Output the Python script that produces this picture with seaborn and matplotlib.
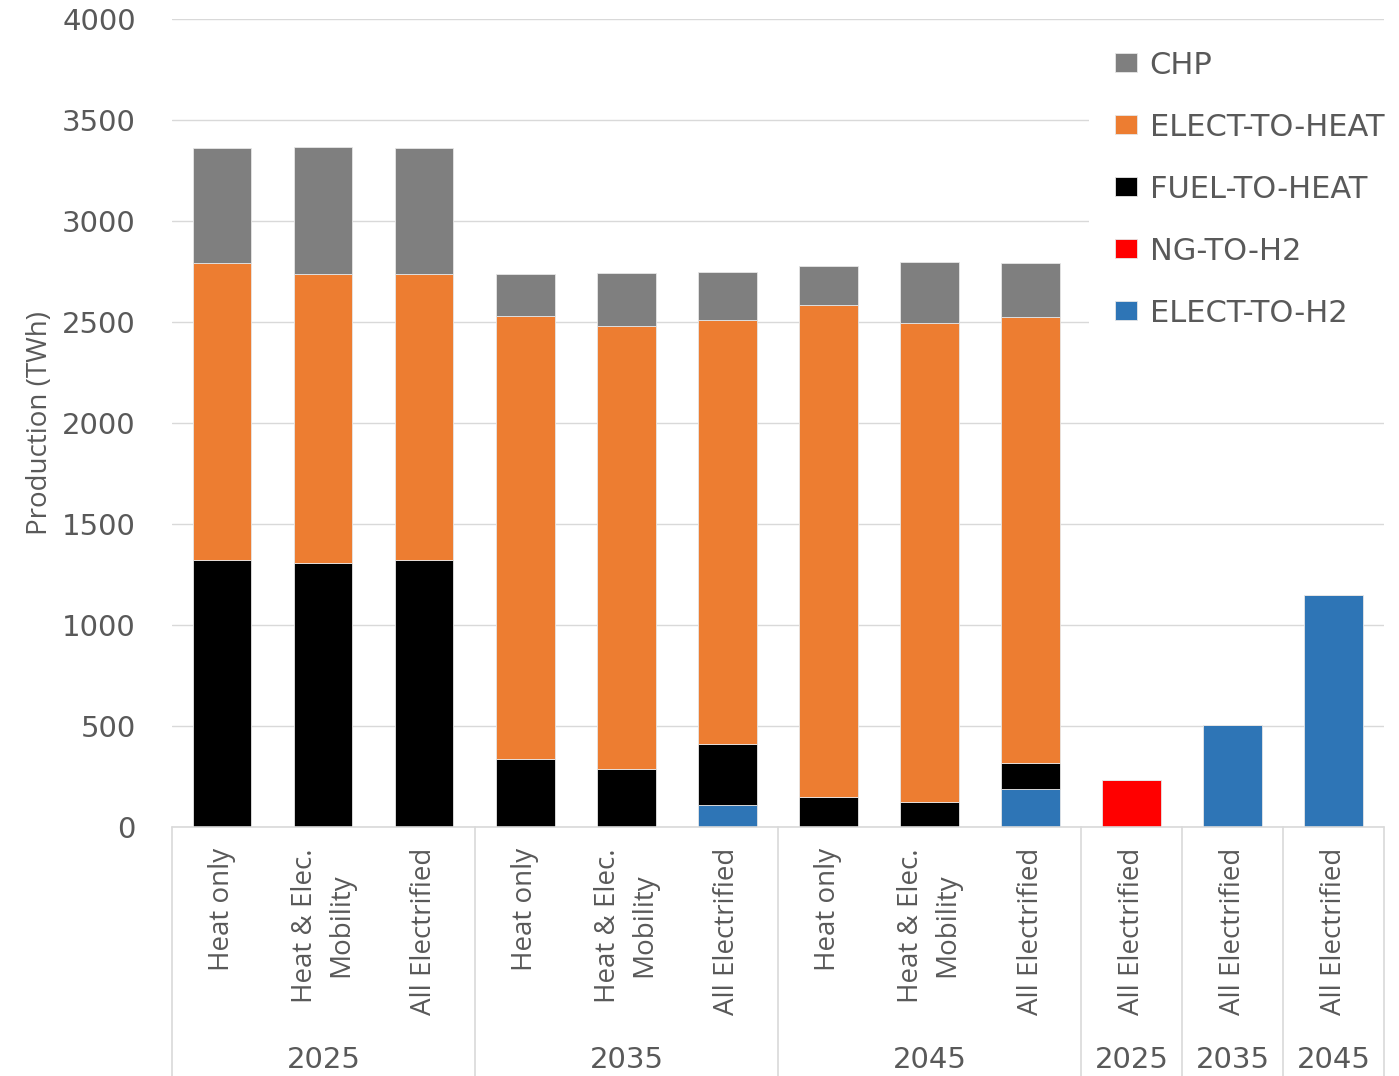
import pandas as pd
import matplotlib
matplotlib.use("Agg")
import matplotlib.pyplot as plt
import matplotlib.transforms as mtransforms
import seaborn as sns

# Data (TWh)
bar_labels = ["Heat only", "Heat & Elec.\nMobility", "All Electrified",
              "Heat only", "Heat & Elec.\nMobility", "All Electrified",
              "Heat only", "Heat & Elec.\nMobility", "All Electrified",
              "All Electrified", "All Electrified", "All Electrified"]
groups = ["2025", "2035", "2045", "2025", "2035", "2045"]
group_sizes = [3, 3, 3, 1, 1, 1]

elect_to_h2 = [0, 0, 0, 0, 0, 110, 0, 0, 186, 0, 505, 1149]
ng_to_h2 = [0, 0, 0, 0, 0, 0, 0, 0, 0, 232, 0, 0]
fuel_to_heat = [1322, 1309, 1320, 339, 286, 303, 150, 125, 132, 0, 0, 0]
elect_to_heat = [1468, 1430, 1419, 2189, 2193, 2096, 2435, 2369, 2205, 0, 0, 0]
chp = [570, 626, 621, 209, 265, 241, 192, 303, 271, 0, 0, 0]

series = ["ELECT-TO-H2", "NG-TO-H2", "FUEL-TO-HEAT", "ELECT-TO-HEAT", "CHP"]
colors = ["#2e75b6", "#ff0000", "#000000", "#ed7d31", "#7f7f7f"]

df = pd.DataFrame({
    "bar": [f"b{i}" for i in range(len(bar_labels))],
    "ELECT-TO-H2": elect_to_h2,
    "NG-TO-H2": ng_to_h2,
    "FUEL-TO-HEAT": fuel_to_heat,
    "ELECT-TO-HEAT": elect_to_heat,
    "CHP": chp,
})

sns.set_style("white")
plt.rcParams["font.family"] = ["DejaVu Sans"]
text_color = "#595959"
line_color = "#d9d9d9"

fig = plt.figure(figsize=(13.99, 10.76), dpi=100)
ax = fig.add_axes([0.1229, 0.2314, 0.8664, 0.7509])

# stacked bars
bottom = [0] * len(df)
for name, col in zip(series, colors):
    sns.barplot(data=df, x="bar", y=name, bottom=bottom, color=col,
                saturation=1, width=0.575, label=name, edgecolor="#e6e6e6",
                linewidth=0.6, ax=ax)
    bottom = [b + v for b, v in zip(bottom, df[name])]

ax.set_xlim(-0.5, len(df) - 0.5)
ax.set_ylim(0, 4000)
ax.set_yticks(range(0, 4001, 500))
ax.yaxis.grid(True, color=line_color, linewidth=1)
ax.set_axisbelow(True)
for s in ax.spines.values():
    s.set_visible(False)
ax.tick_params(axis="y", length=0, pad=26, labelsize=21, labelcolor=text_color)
ax.set_xticks([])
ax.set_xlabel("")
ax.set_ylabel("Production (TWh)", fontsize=20, color=text_color,
              family="Open Sans", labelpad=6)

# multi-level category axis
trans = mtransforms.blended_transform_factory(ax.transData, ax.transAxes)
ax.plot([-0.5, len(df) - 0.5], [0, 0], color=line_color, lw=1.2,
        transform=trans, clip_on=False)
for i, lab in enumerate(bar_labels):
    ax.text(i, -0.026, lab, rotation=90, ha="center", va="top",
            multialignment="center", linespacing=1.4, fontsize=20,
            color=text_color, family="Open Sans", transform=trans)

start = -0.5
ax.plot([start, start], [0, -0.31], color=line_color, lw=1.2,
        transform=trans, clip_on=False)
for g, n in zip(groups, group_sizes):
    end = start + n
    ax.text((start + end) / 2, -0.288, g, ha="center", va="center",
            fontsize=21, color=text_color, transform=trans)
    ax.plot([end, end], [0, -0.31], color=line_color, lw=1.2,
            transform=trans, clip_on=False)
    start = end

# legend, top item = CHP
handles, labels = ax.get_legend_handles_labels()
leg = ax.legend(handles[::-1], labels[::-1], loc="upper left",
                bbox_to_anchor=(0.757, 0.993), frameon=True, facecolor="white",
                edgecolor="none", framealpha=1, fontsize=22, labelspacing=1.08,
                handlelength=0.72, handleheight=0.59, handletextpad=0.4,
                borderpad=0.85, borderaxespad=0)
for t in leg.get_texts():
    t.set_color(text_color)

fig.savefig("out.png", dpi=100)
